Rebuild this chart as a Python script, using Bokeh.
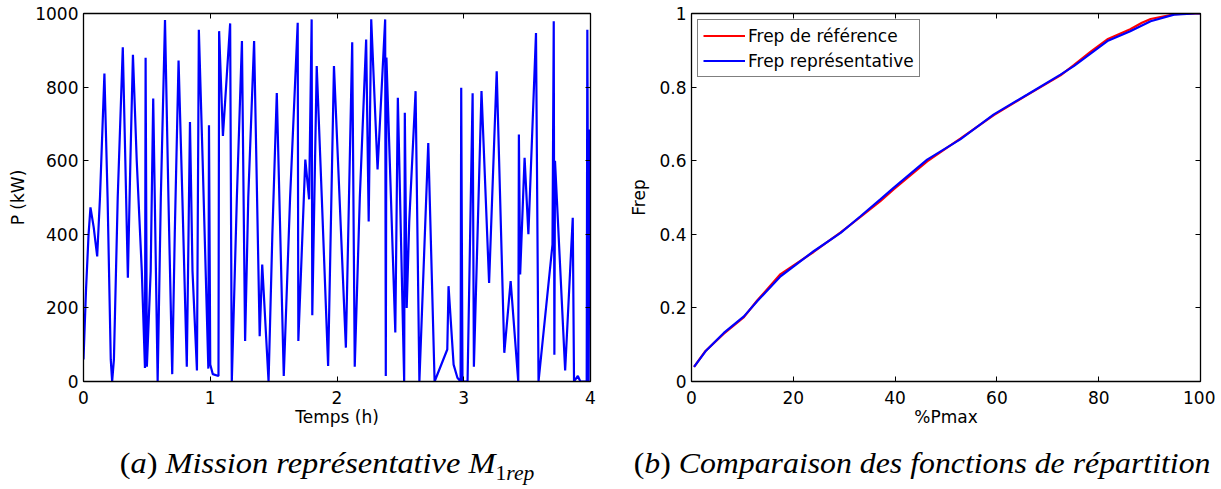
from bokeh.plotting import figure
from bokeh.layouts import row, column
from bokeh.models import (LinearAxis, FixedTicker, CustomJSTickFormatter, Range1d,
                          Legend, LegendItem, Div)
from bokeh.embed import file_html
from bokeh.resources import INLINE

# ---------------- data ----------------
# (a) representative mission: time (h) and power (kW)
temps_h = [0.0, 0.02, 0.04, 0.055, 0.08, 0.108, 0.13, 0.165, 0.19, 0.215, 0.226, 0.24,
           0.27, 0.31, 0.33, 0.35, 0.37, 0.39, 0.42, 0.46, 0.485, 0.49, 0.50, 0.53,
           0.55, 0.585, 0.61, 0.643, 0.67, 0.70, 0.72, 0.75, 0.78, 0.815, 0.84, 0.86,
           0.895, 0.91, 0.94, 0.985, 0.99, 1.0, 1.02, 1.065, 1.07, 1.10, 1.157, 1.17,
           1.21, 1.25, 1.275, 1.30, 1.346, 1.39, 1.41, 1.46, 1.49, 1.525, 1.58, 1.63,
           1.69, 1.695, 1.75, 1.78, 1.80, 1.805, 1.84, 1.88, 1.93, 1.976, 2.02, 2.07,
           2.12, 2.14, 2.18, 2.23, 2.25, 2.27, 2.32, 2.38, 2.385, 2.39, 2.46, 2.48,
           2.53, 2.535, 2.55, 2.57, 2.62, 2.65, 2.72, 2.77, 2.87, 2.88, 2.92, 2.95,
           2.975, 2.98, 2.99, 3.03, 3.07, 3.08, 3.14, 3.20, 3.26, 3.32, 3.37, 3.43,
           3.435, 3.445, 3.48, 3.51, 3.57, 3.59, 3.70, 3.71, 3.715, 3.72, 3.80, 3.86,
           3.87, 3.90, 3.92, 3.97, 3.975, 3.985, 3.995]
puissance_kw = [60, 250, 400, 473, 420, 340, 500, 837, 500, 60, 0, 60,
                500, 908, 600, 282, 600, 888, 600, 300, 37, 880, 40, 300,
                769, 0, 500, 982, 500, 20, 400, 872, 500, 40, 705, 300,
                30, 956, 600, 35, 696, 46, 20, 15, 952, 667, 973, 0,
                500, 925, 110, 500, 925, 123, 318, 0, 400, 784, 15, 500,
                975, 110, 603, 495, 984, 180, 857, 500, 42, 857, 500, 92,
                922, 40, 500, 929, 435, 984, 576, 984, 15, 880, 133, 771,
                0, 730, 200, 435, 789, 0, 648, 0, 87, 259, 46, 10,
                0, 798, 0, 0, 783, 40, 789, 268, 843, 78, 273, 0,
                671, 291, 608, 400, 947, 0, 372, 979, 73, 600, 30, 445,
                0, 15, 0, 0, 956, 0, 685]

# (b) cumulative distribution functions
pmax_rep = [0.5, 2.75, 6.35, 10.3, 12.9, 17.5, 24.0, 29.3, 33.2, 37.1, 39.7, 46.3,
            52.8, 59.4, 66.0, 72.5, 75.1, 81.7, 86.2, 90.2, 94.8, 99.0, 100.0]
frep_rep = [0.04, 0.082, 0.132, 0.177, 0.218, 0.286, 0.354, 0.404, 0.449, 0.495, 0.526, 0.603,
            0.658, 0.726, 0.780, 0.834, 0.857, 0.925, 0.952, 0.979, 0.997, 1.0, 1.0]
pmax_ref = [0.5, 2.75, 6.35, 10.3, 12.9, 17.5, 24.0, 29.3, 33.2, 37.1, 39.7, 46.3,
            52.8, 59.4, 66.0, 72.5, 75.1, 78.5, 81.7, 86.2, 88.5, 90.2, 94.8, 99.0, 100.0]
frep_ref = [0.04, 0.083, 0.130, 0.175, 0.220, 0.292, 0.352, 0.405, 0.447, 0.490, 0.522, 0.598,
            0.660, 0.724, 0.779, 0.832, 0.860, 0.897, 0.930, 0.957, 0.975, 0.985, 0.998, 1.0, 1.0]

ticks_a_x = [0, 1, 2, 3, 4]
ticks_a_y = [0, 200, 400, 600, 800, 1000]
ticks_b_x = [0, 20, 40, 60, 80, 100]
ticks_b_y = [0, 0.2, 0.4, 0.6, 0.8, 1]

FONT = "DejaVu Sans"
FS = "17px"
BLUE = "#0000ff"
RED = "#ff0000"


def style_axes(p, xt, yt, ylab_standoff, yfmt=None):
    blank = CustomJSTickFormatter(code="return ''")
    for ax in (p.xaxis[0], p.yaxis[0]):
        ax.major_tick_in = 5
        ax.major_tick_out = 0
        ax.minor_tick_line_color = None
        ax.axis_line_color = "black"
        ax.axis_line_width = 1.3
        ax.major_tick_line_color = "black"
        ax.major_label_text_font = FONT
        ax.major_label_text_font_size = FS
        ax.major_label_text_color = "black"
        ax.axis_label_text_font = FONT
        ax.axis_label_text_font_size = FS
        ax.axis_label_text_font_style = "normal"
        ax.axis_label_text_color = "black"
    p.xaxis[0].ticker = FixedTicker(ticks=xt)
    p.yaxis[0].ticker = FixedTicker(ticks=yt)
    p.xaxis[0].major_label_standoff = 9
    p.yaxis[0].major_label_standoff = 5
    p.xaxis[0].axis_label_standoff = 0
    p.yaxis[0].axis_label_standoff = ylab_standoff
    if yfmt is not None:
        p.yaxis[0].formatter = yfmt
    # mirrored axes (box with inward ticks)
    top = LinearAxis(ticker=FixedTicker(ticks=xt), formatter=blank,
                     major_tick_in=5, major_tick_out=0, minor_tick_line_color=None,
                     axis_line_width=1.3, major_label_text_font_size="1px",
                     major_label_standoff=0)
    right = LinearAxis(ticker=FixedTicker(ticks=yt), formatter=blank,
                       major_tick_in=5, major_tick_out=0, minor_tick_line_color=None,
                       axis_line_width=1.3, major_label_text_font_size="1px",
                       major_label_standoff=0)
    p.add_layout(top, "above")
    p.add_layout(right, "right")
    p.xgrid.grid_line_color = None
    p.ygrid.grid_line_color = None
    p.outline_line_color = "black"
    p.background_fill_color = "white"
    p.border_fill_color = "white"


# ---------------- (a) ----------------
p1 = figure(width=608, height=437, output_backend="svg", toolbar_location=None,
            x_range=Range1d(0, 4), y_range=Range1d(0, 1000),
            min_border_left=83, min_border_right=18, min_border_top=13, min_border_bottom=56)
p1.line(temps_h, puissance_kw, line_color=BLUE, line_width=2.2)
p1.xaxis.axis_label = "Temps (h)"
p1.yaxis.axis_label = "P (kW)"
style_axes(p1, ticks_a_x, ticks_a_y, 4)

# ---------------- (b) ----------------
p2 = figure(width=597, height=437, output_backend="svg", toolbar_location=None,
            x_range=Range1d(0, 100), y_range=Range1d(0, 1),
            min_border_left=73, min_border_right=15, min_border_top=13, min_border_bottom=56)
r_ref = p2.line(pmax_ref, frep_ref, line_color=RED, line_width=2.2)
r_rep = p2.line(pmax_rep, frep_rep, line_color=BLUE, line_width=2.2)
p2.xaxis.axis_label = "%Pmax"
p2.yaxis.axis_label = "Frep"
style_axes(p2, ticks_b_x, ticks_b_y, 7,
           yfmt=CustomJSTickFormatter(code="return String(Math.round(tick*10)/10)"))

legend = Legend(items=[LegendItem(label="Frep de référence", renderers=[r_ref]),
                       LegendItem(label="Frep représentative", renderers=[r_rep])],
                location="top_left", orientation="vertical")
legend.label_text_font = FONT
legend.label_text_font_size = FS
legend.label_text_color = "black"
legend.border_line_color = "black"
legend.border_line_width = 1
legend.background_fill_alpha = 1
legend.glyph_width = 42
legend.glyph_height = 21
legend.label_height = 21
legend.label_standoff = 3
legend.spacing = 4
legend.padding = 5
legend.margin = 6
p2.add_layout(legend)

cap_style = {"font-family": "'Liberation Serif', serif", "font-size": "30px",
             "color": "black", "white-space": "nowrap", "text-align": "center",
             "line-height": "1"}
span_a = ("<span style='display:inline-block;transform:scaleX(1.08)'>"
          "(<i>a</i>) <i>Mission représentative M</i>"
          "<sub style='font-size:20px'>1<i>rep</i></sub></span>")
span_b = ("<span style='display:inline-block;transform:scaleX(1.06)'>"
          "(<i>b</i>) <i>Comparaison des fonctions de répartition</i></span>")
d1 = Div(text=span_a, width=608, height=48,
         styles=dict(cap_style, **{"padding-left": "36px", "padding-top": "6px", "width": "608px"}))
d2 = Div(text=span_b, width=597, height=48,
         styles=dict(cap_style, **{"padding-left": "2px", "padding-top": "6px", "width": "597px"}))

layout = row(column(p1, d1), column(p2, d2))
open("out.html", "w").write(file_html(layout, INLINE))
